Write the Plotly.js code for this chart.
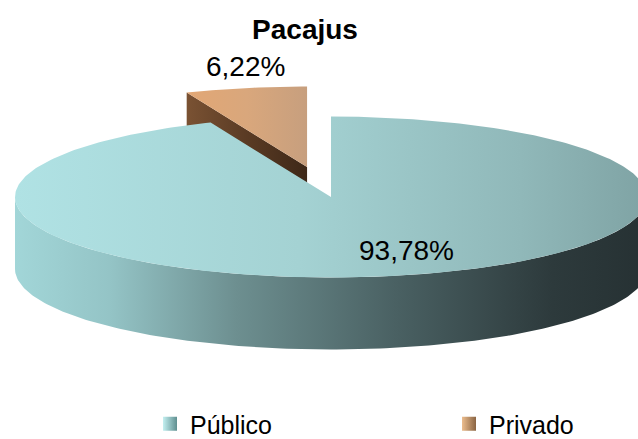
<!DOCTYPE html>
<html>
<head>
<meta charset="utf-8">
<script src="https://cdn.plot.ly/plotly-3.0.1.min.js"></script>
<style>html,body{margin:0;padding:0;background:#fff;}#chart{width:638px;height:439px;}</style>
</head>
<body>
<div id="chart"></div>
<script>
// ---- data ----
const categories = ['Público', 'Privado'];
const values = [93.78, 6.22];
const chartTitle = 'Pacajus';

// ---- style / geometry (not data) ----
const W = 638, H = 439;
const cx = 331, cy = 197, rx = 316, ry = 80.5, depth = 72;
const pullX = 0.39, pullY = 0.38;          // explode amount for the small slice
const deg = Math.PI / 180;

function pt(theta, dx, dy, dz) {
  return [cx + dx - rx * Math.sin(theta), cy + dy - ry * Math.cos(theta) + dz];
}
function arc(a0, a1, dx, dy, dz) {
  const n = Math.max(8, Math.ceil(Math.abs(a1 - a0) / (1 * deg)));
  const out = [];
  for (let i = 0; i <= n; i++) out.push(pt(a0 + (a1 - a0) * i / n, dx, dy, dz));
  return out;
}
function poly(points, name, scale, extra) {
  return Object.assign({
    type: 'scatter', mode: 'lines', fill: 'toself',
    x: points.map(p => p[0]), y: points.map(p => p[1]),
    line: {width: 0}, hoverinfo: 'skip', showlegend: false, name: name,
    fillgradient: {type: 'horizontal', colorscale: scale}
  }, extra || {});
}

const total = values.reduce((a, b) => a + b, 0);
// Privado slice: from 12 o'clock counter-clockwise
const privSpan = values[1] / total * 2 * Math.PI;
const a0 = 0, a1 = privSpan;
const mid = (a0 + a1) / 2;
const ex = -pullX * rx * Math.sin(mid), ey = -pullY * ry * Math.cos(mid);

const traces = [];
// Privado radial side face (visible one at angle a1)
{
  const apexT = [cx + ex, cy + ey], rimT = pt(a1, ex, ey, 0);
  const pts = [apexT, rimT, [rimT[0], rimT[1] + depth], [apexT[0], apexT[1] + depth], apexT];
  traces.push(poly(pts, 'Privado', [[0, '#7a5233'], [0.5, '#5a3b24'], [1, '#3e2818']]));
}
// Privado top face
{
  const pts = [[cx + ex, cy + ey]].concat(arc(a0, a1, ex, ey, 0)).concat([[cx + ex, cy + ey]]);
  traces.push(poly(pts, 'Privado', [[0, '#e2a775'], [0.5, '#d9a77c'], [1, '#c79f7e']]));
}
// Público front side (visible from 9 o'clock round the bottom to 3 o'clock)
{
  const top = arc(90 * deg, 270 * deg, 0, 0, 0);
  const bot = arc(270 * deg, 90 * deg, 0, 0, depth);
  const pts = top.concat(bot).concat([top[0]]);
  traces.push(poly(pts, 'Público', [[0, '#a2d6d8'], [0.15, '#94c4c6'], [0.35, '#6d8f90'], [0.6, '#4a6163'], [0.85, '#2d3a3c'], [1, '#263133']]));
}
// Público top face
{
  const pts = [[cx, cy]].concat(arc(a1, 2 * Math.PI, 0, 0, 0)).concat([[cx, cy]]);
  traces.push(poly(pts, 'Público', [[0, '#b0e2e4'], [0.45, '#a4d2d3'], [0.8, '#90b8b9'], [1, '#7fa3a4']]));
}
// legend entries (one legend box per category, placed like the original)
const legendCols = [['#c4f0f1', '#5f8f90'], ['#ecbd8e', '#8a6443']];
const legendIds = ['legend', 'legend2'];
categories.forEach((c, i) => {
  traces.push({
    type: 'scatter', mode: 'markers', x: [null], y: [null], name: c, showlegend: true,
    legend: legendIds[i],
    marker: {symbol: 'square', size: 14, color: legendCols[i][0],
             gradient: {type: 'horizontal', color: legendCols[i][1]}, line: {width: 0}},
    hoverinfo: 'skip'
  });
});

const fmt = v => v.toFixed(2).replace('.', ',') + '%';
const font = 'Arial, "Liberation Sans", sans-serif';
const legendBase = {orientation: 'h', xanchor: 'left', yref: 'container', y: 1 - 424 / H, yanchor: 'middle',
  font: {family: font, size: 25, color: '#000'}, bgcolor: 'rgba(0,0,0,0)'};

const layout = {
  width: W, height: H,
  margin: {l: 0, r: 0, t: 0, b: 0, autoexpand: false},
  paper_bgcolor: '#ffffff', plot_bgcolor: '#ffffff',
  xaxis: {range: [0, W], visible: false, fixedrange: true},
  yaxis: {range: [H, 0], visible: false, fixedrange: true},
  title: {text: '<b>' + chartTitle + '</b>', x: 305 / W, xanchor: 'center', y: 1 - 29 / H, yanchor: 'middle',
          font: {family: font, size: 28, color: '#000'}},
  showlegend: true,
  legend: Object.assign({}, legendBase, {x: 150 / W}),
  legend2: Object.assign({}, legendBase, {x: 449 / W}),
  annotations: [
    {x: 406, y: 250, xref: 'x', yref: 'y', text: fmt(values[0]), showarrow: false,
     font: {family: font, size: 28, color: '#000'}},
    {x: 245, y: 66, xref: 'x', yref: 'y', text: fmt(values[1]), showarrow: false,
     font: {family: font, size: 28, color: '#000'}}
  ]
};

Plotly.newPlot('chart', traces, layout, {staticPlot: true, displayModeBar: false});
</script>
</body>
</html>
